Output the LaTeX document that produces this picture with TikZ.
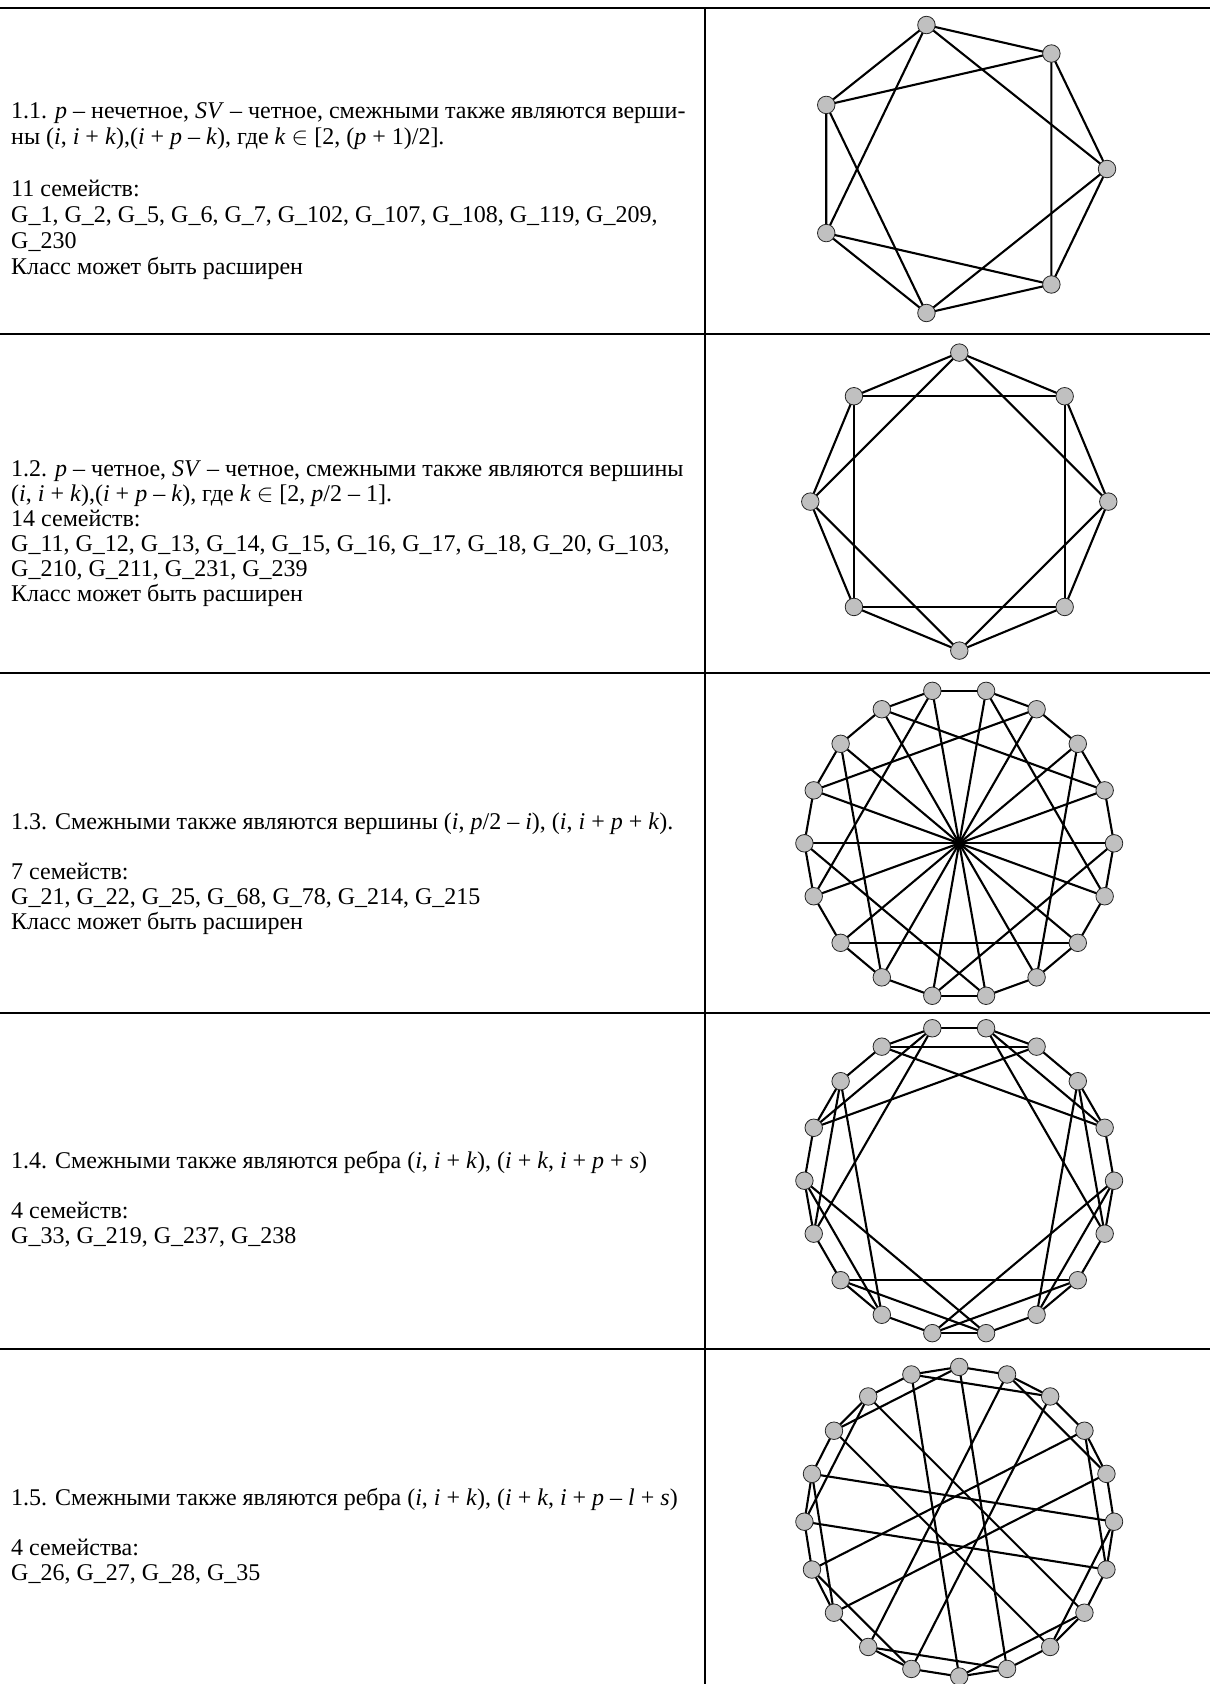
\documentclass[tikz,border=0pt]{standalone}
\usepackage{fontspec}
\setmainfont{Liberation Serif}
\pgfdeclarelayer{bg}
\pgfsetlayers{bg,main}
\definecolor{vgray}{RGB}{192,192,192}
\tikzset{
  vtx/.style={circle, draw=black!85, line width=0.8pt, fill=vgray, minimum size=17.5pt, inner sep=0pt},
  gedge/.style={line width=2.1pt, line cap=round},
  tline/.style={line width=2pt},
  txt/.style={anchor=west, align=left, inner sep=0pt, font=\fontsize{24}{25}\selectfont}
}
\begin{document}
\begin{tikzpicture}[x=1pt,y=-1pt]
\useasboundingbox (0,0) rectangle (1210,1684);
% table
\draw[tline] (0,7.5) -- (1210,7.5);
\draw[tline] (0,334) -- (1210,334);
\draw[tline] (0,673) -- (1210,673);
\draw[tline] (0,1012.5) -- (1210,1012.5);
\draw[tline] (0,1348.6) -- (1210,1348.6);
\draw[tline] (705.4,7.5) -- (705.4,1684);
% texts
\node[txt] (t1) at (11,191) {1.1. \textit{p} – нечетное, \textit{SV} – четное, смежными также являются верши-\\[0.6pt]
ны (\textit{i}, \textit{i} + \textit{k}),(\textit{i} + \textit{p} – \textit{k}), где \textit{k} $\in$ [2, (\textit{p} + 1)/2].\\[27pt]
11 семейств:\\[1.5pt]
G\_1, G\_2, G\_5, G\_6, G\_7, G\_102, G\_107, G\_108, G\_119, G\_209,\\[0.6pt]
G\_230\\[0.6pt]
Класс может быть расширен};
\node[txt] (t2) at (11,534) {1.2. \textit{p} – четное, \textit{SV} – четное, смежными также являются вершины\\
(\textit{i}, \textit{i} + \textit{k}),(\textit{i} + \textit{p} – \textit{k}), где \textit{k} $\in$ [2, \textit{p}/2 – 1].\\
14 семейств:\\
G\_11, G\_12, G\_13, G\_14, G\_15, G\_16, G\_17, G\_18, G\_20, G\_103,\\
G\_210, G\_211, G\_231, G\_239\\
Класс может быть расширен};
\node[txt] (t3) at (11,874) {1.3. Смежными также являются вершины (\textit{i}, \textit{p}/2 – \textit{i}), (\textit{i}, \textit{i} + \textit{p} + \textit{k}).\\[25pt]
7 семейств:\\
G\_21, G\_22, G\_25, G\_68, G\_78, G\_214, G\_215\\
Класс может быть расширен};
\node[txt] (t4) at (11,1199.5) {1.4. Смежными также являются ребра (\textit{i}, \textit{i} + \textit{k}), (\textit{i} + \textit{k}, \textit{i} + \textit{p} + \textit{s})\\[25pt]
4 семейств:\\
G\_33, G\_219, G\_237, G\_238};
\node[txt] (t5) at (11,1536) {1.5. Смежными также являются ребра (\textit{i}, \textit{i} + \textit{k}), (\textit{i} + \textit{k}, \textit{i} + \textit{p} – \textit{l} + \textit{s})\\[25pt]
4 семейства:\\
G\_26, G\_27, G\_28, G\_35};
% graph 1: C7(1,2)
\foreach \k in {0,...,6} {
  \node[vtx] (a\k) at ({959.3+147.7*cos(360/7*\k)},{169-147.7*sin(360/7*\k)}) {};
}
% graph 2: C8(1,2)
\foreach \k in {0,...,7} {
  \node[vtx] (b\k) at ({959.3+149*cos(45*\k)},{501.6-149*sin(45*\k)}) {};
}
% graph 3
\foreach \k in {0,...,17} {
  \node[vtx] (c\k) at ({959.2+154.8*cos(20*\k)},{843.3-154.8*sin(20*\k)}) {};
}
% graph 4
\foreach \k in {0,...,17} {
  \node[vtx] (d\k) at ({959.2+154.8*cos(20*\k)},{1180.7-154.8*sin(20*\k)}) {};
}
% graph 5
\foreach \k in {0,...,19} {
  \node[vtx] (e\k) at ({959.2+154.8*cos(18*\k)},{1521.7-154.8*sin(18*\k)}) {};
}
\begin{pgfonlayer}{bg}
\foreach \k in {0,...,6} {
  \pgfmathtruncatemacro\na{mod(\k+1,7)}
  \pgfmathtruncatemacro\nb{mod(\k+2,7)}
  \draw[gedge] (a\k.center) -- (a\na.center);
  \draw[gedge] (a\k.center) -- (a\nb.center);
}
\foreach \k in {0,...,7} {
  \pgfmathtruncatemacro\na{mod(\k+1,8)}
  \pgfmathtruncatemacro\nb{mod(\k+2,8)}
  \draw[gedge] (b\k.center) -- (b\na.center);
  \draw[gedge] (b\k.center) -- (b\nb.center);
}
\foreach \k in {0,...,17} {
  \pgfmathtruncatemacro\na{mod(\k+1,18)}
  \draw[gedge] (c\k.center) -- (c\na.center);
  \draw[gedge] (d\k.center) -- (d\na.center);
}
\foreach \k in {0,...,8} {
  \pgfmathtruncatemacro\na{\k+9}
  \draw[gedge] (c\k.center) -- (c\na.center);
}
\foreach \k in {1,3,...,17} {
  \pgfmathtruncatemacro\na{mod(\k+5,18)}
  \pgfmathtruncatemacro\nb{mod(\k+3,18)}
  \draw[gedge] (c\k.center) -- (c\na.center);
  \draw[gedge] (d\k.center) -- (d\na.center);
  \draw[gedge] (d\k.center) -- (d\nb.center);
}
\foreach \k in {0,...,19} {
  \pgfmathtruncatemacro\na{mod(\k+1,20)}
  \draw[gedge] (e\k.center) -- (e\na.center);
}
\foreach \k in {1,3,...,19} {
  \pgfmathtruncatemacro\na{mod(\k+3,20)}
  \draw[gedge] (e\k.center) -- (e\na.center);
}
\foreach \k in {0,2,...,18} {
  \pgfmathtruncatemacro\na{mod(\k+9,20)}
  \draw[gedge] (e\k.center) -- (e\na.center);
}
\end{pgfonlayer}
\end{tikzpicture}
\end{document}
